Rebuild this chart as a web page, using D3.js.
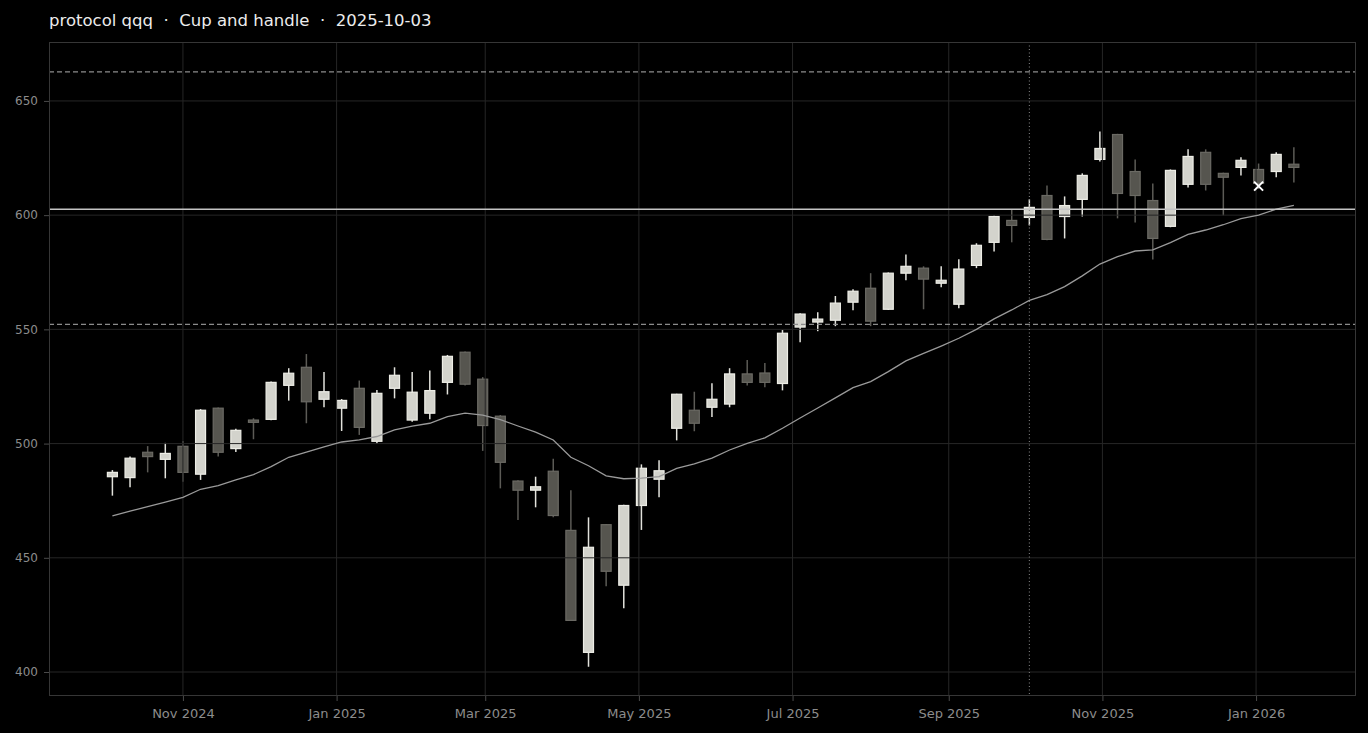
<!DOCTYPE html>
<html>
<head>
<meta charset="utf-8">
<script src="https://cdn.jsdelivr.net/npm/d3@7"></script>
<style>
  html, body { margin: 0; padding: 0; background: #000; }
  svg { display: block; font-family: "DejaVu Sans", sans-serif; }
</style>
</head>
<body>
<div id="chart"></div>
<script>
// weekly candles, one per Friday starting 2024-10-04
const firstWeek = new Date(2024, 9, 4);
const weekCount = 68;

const open  = [485.5,485.1,496.2,493.1,498.8,486.6,515.5,497.8,510.3,510.6,525.5,533.4,519.4,515.5,524.2,501.0,524.2,510.3,513.3,526.8,
               540.0,528.2,512.0,483.6,479.6,487.9,462.0,408.6,464.5,438.0,472.9,484.4,506.7,514.6,515.9,517.3,530.5,530.9,526.3,551.0,
               553.2,554.0,561.9,568.0,558.8,574.6,576.8,570.2,561.0,578.0,588.1,597.7,599.0,608.6,599.4,606.9,624.4,635.3,619.1,606.4,
               595.1,613.5,627.5,618.3,620.9,620.0,619.1,622.3];
const high  = [488.4,494.3,498.9,500.3,501.1,515.1,515.8,506.5,511.1,527.2,533.0,539.2,531.3,519.5,527.6,523.5,533.4,531.3,532.0,538.8,
               540.3,529.1,512.5,484.0,485.5,493.4,479.6,467.7,464.8,473.2,490.9,492.7,521.8,522.7,526.4,533.0,536.6,535.3,549.7,557.1,
               557.5,564.6,567.6,574.6,574.9,582.8,577.6,577.6,580.7,587.7,599.8,602.5,606.9,613.0,608.2,618.3,636.6,635.6,624.4,613.9,
               620.0,628.8,628.8,618.6,625.3,622.6,627.5,629.7];
const low   = [477.2,480.9,487.4,484.8,483.3,484.1,494.3,496.3,501.9,510.2,518.8,508.9,515.9,505.5,503.8,499.8,519.8,509.6,510.6,521.5,
               525.4,496.8,480.4,466.5,472.1,467.7,422.3,402.3,437.5,427.9,462.2,476.5,501.4,505.4,511.6,515.9,525.4,524.7,523.3,544.4,
               549.2,551.4,558.4,551.4,558.5,571.5,558.8,568.4,559.2,576.8,584.1,588.1,595.5,589.0,589.8,599.4,623.5,598.6,596.8,580.6,
               594.7,612.1,610.8,599.9,617.4,611.5,616.6,614.3];
const close = [487.4,493.6,494.3,495.7,487.4,514.6,496.2,505.8,509.3,526.8,530.8,518.3,522.7,518.9,507.1,522.0,529.9,522.5,523.2,538.2,
               526.0,507.9,491.8,479.6,481.1,468.5,422.6,454.6,444.1,472.9,489.2,488.1,521.6,508.9,519.4,530.5,526.8,526.8,548.3,556.7,
               554.5,561.5,566.7,553.6,574.6,577.6,572.0,571.5,576.4,586.8,599.4,595.5,603.4,589.4,604.2,617.4,629.2,609.5,608.6,589.8,
               619.6,625.7,613.5,616.6,624.0,613.9,626.6,620.9];
const movingAvg = [468.3,470.4,472.4,474.4,476.5,480.0,481.6,484.1,486.4,489.9,494.0,496.3,498.6,500.7,501.6,503.1,506.0,507.6,508.9,511.8,
                   513.3,512.5,510.5,507.7,505.0,501.6,494.0,490.3,485.9,484.6,484.9,485.5,489.1,491.1,493.6,497.2,500.1,502.5,506.7,511.2,
                   515.6,520.0,524.5,527.1,531.5,536.2,539.5,542.7,546.1,550.0,554.6,558.5,562.7,565.2,568.7,573.4,578.6,581.8,584.3,584.8,
                   588.0,591.6,593.5,595.8,598.5,600.0,602.6,604.3];

// pattern levels
const resistanceUpper = 662.7;
const breakoutLevel = 602.6;
const supportLevel = 552.2;
const signalDate = new Date(2025, 9, 3);
const markerDate = new Date(2026, 0, 2);
const markerValue = 612.7;

const yTicks = [400, 450, 500, 550, 600, 650];
const title = "protocol qqq  \u00b7  Cup and handle  \u00b7  2025-10-03";

const dates = d3.range(weekCount).map(i => d3.timeDay.offset(firstWeek, 7 * i));
const candles = dates.map((d, i) => ({date: d, o: open[i], h: high[i], l: low[i], c: close[i]}));

const width = 1368, height = 733;
const margin = {top: 42, right: 12, bottom: 37, left: 49};

const x = d3.scaleTime()
    .domain([new Date(2024, 8, 8, 20), new Date(2026, 1, 9, 16)])
    .range([margin.left, width - margin.right]);
const y = d3.scaleLinear()
    .domain([389.5, 675.8])
    .range([height - margin.bottom, margin.top]);

const bodyW = 10;

const svg = d3.create("svg")
    .attr("width", width)
    .attr("height", height)
    .attr("viewBox", [0, 0, width, height]);

svg.append("rect").attr("width", width).attr("height", height).attr("fill", "#000");

svg.append("text")
    .attr("x", 49).attr("y", 26)
    .attr("fill", "#ececec")
    .attr("font-size", 16.5)
    .style("white-space", "pre")
    .text(title);

svg.append("clipPath").attr("id", "plot")
  .append("rect")
    .attr("x", margin.left).attr("y", margin.top)
    .attr("width", width - margin.left - margin.right)
    .attr("height", height - margin.top - margin.bottom);

const plot = svg.append("g").attr("clip-path", "url(#plot)");

// candles
const candle = plot.append("g")
  .selectAll("g")
  .data(candles)
  .join("g")
    .attr("transform", d => `translate(${x(d.date)},0)`);

candle.append("line")
    .attr("y1", d => y(d.h))
    .attr("y2", d => y(d.l))
    .attr("stroke", d => d.c >= d.o ? "#e2e2dc" : "#5c5b56")
    .attr("stroke-width", 1.5);

candle.append("rect")
    .attr("x", -bodyW / 2)
    .attr("width", bodyW)
    .attr("y", d => y(Math.max(d.o, d.c)))
    .attr("height", d => Math.max(1.5, Math.abs(y(d.o) - y(d.c))))
    .attr("fill", d => d.c >= d.o ? "#d3d3cc" : "#56554f")
    .attr("stroke", d => d.c >= d.o ? "#ededE6" : "#6b6a64")
    .attr("stroke-width", 1.2);

// grid lines (drawn over the candles)
plot.append("g")
  .selectAll("line")
  .data(yTicks)
  .join("line")
    .attr("x1", margin.left).attr("x2", width - margin.right)
    .attr("y1", d => y(d)).attr("y2", d => y(d))
    .attr("stroke", "#262626")
    .attr("stroke-width", 1);

plot.append("g")
  .selectAll("line")
  .data(x.ticks(d3.timeMonth.every(2)))
  .join("line")
    .attr("x1", d => x(d)).attr("x2", d => x(d))
    .attr("y1", margin.top).attr("y2", height - margin.bottom)
    .attr("stroke", "#262626")
    .attr("stroke-width", 1);

// moving average
plot.append("path")
    .datum(dates.map((d, i) => [d, movingAvg[i]]))
    .attr("fill", "none")
    .attr("stroke", "#9a9a9a")
    .attr("stroke-width", 1.3)
    .attr("d", d3.line().x(d => x(d[0])).y(d => y(d[1])));

// levels
const levels = [
  {v: resistanceUpper, color: "#8c8c8c", dash: "5,3", w: 1.2},
  {v: breakoutLevel, color: "#c4c4c4", dash: null, w: 1.6},
  {v: supportLevel, color: "#8c8c8c", dash: "5,3", w: 1.2}
];
plot.append("g")
  .selectAll("line")
  .data(levels)
  .join("line")
    .attr("x1", margin.left).attr("x2", width - margin.right)
    .attr("y1", d => y(d.v)).attr("y2", d => y(d.v))
    .attr("stroke", d => d.color)
    .attr("stroke-width", d => d.w)
    .attr("stroke-dasharray", d => d.dash);

plot.append("line")
    .attr("x1", x(signalDate)).attr("x2", x(signalDate))
    .attr("y1", margin.top).attr("y2", height - margin.bottom)
    .attr("stroke", "#8a8a8a")
    .attr("stroke-width", 1)
    .attr("stroke-dasharray", "1,2.5");

// signal marker
const mx = x(markerDate), my = y(markerValue), s = 4.5;
plot.append("path")
    .attr("d", `M${mx - s},${my - s}L${mx + s},${my + s}M${mx - s},${my + s}L${mx + s},${my - s}`)
    .attr("stroke", "#ffffff")
    .attr("stroke-width", 2);

// frame
svg.append("rect")
    .attr("x", margin.left + 0.5).attr("y", margin.top + 0.5)
    .attr("width", width - margin.left - margin.right - 1)
    .attr("height", height - margin.top - margin.bottom - 1)
    .attr("fill", "none")
    .attr("stroke", "#363636");

// axes
const yAxis = svg.append("g")
    .attr("transform", `translate(${margin.left},0)`)
    .call(d3.axisLeft(y).tickValues(yTicks).tickSize(5).tickPadding(6));
const xAxis = svg.append("g")
    .attr("transform", `translate(0,${height - margin.bottom})`)
    .call(d3.axisBottom(x).ticks(d3.timeMonth.every(2)).tickFormat(d3.timeFormat("%b %Y")).tickSize(5).tickPadding(8));

[yAxis, xAxis].forEach(g => {
  g.select(".domain").remove();
  g.selectAll(".tick line").attr("stroke", "#4a4a4a");
  g.selectAll(".tick text")
      .attr("fill", "#8c8c8c")
      .attr("font-family", "DejaVu Sans, sans-serif");
});
yAxis.selectAll(".tick text").attr("font-size", 12);
xAxis.selectAll(".tick text").attr("font-size", 13);

d3.select("#chart").append(() => svg.node());
</script>
</body>
</html>
